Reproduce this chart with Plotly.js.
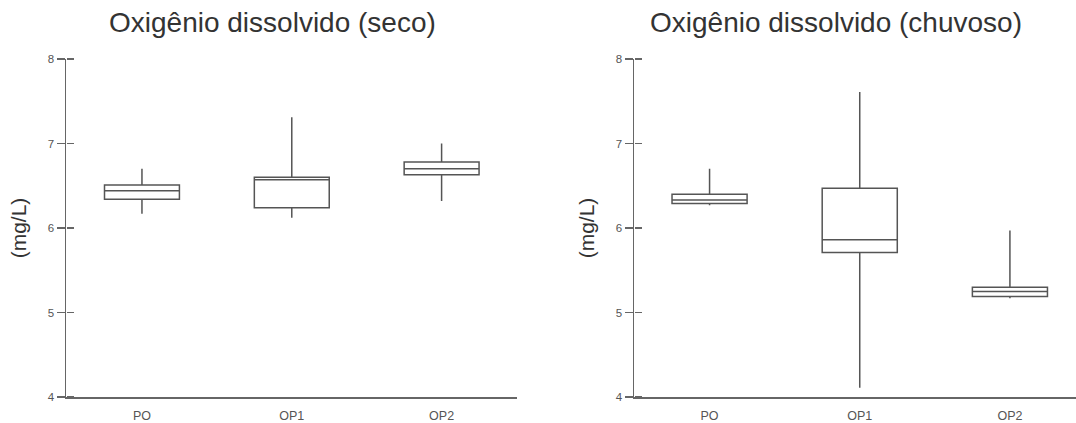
<!DOCTYPE html>
<html>
<head>
<meta charset="utf-8">
<script src="https://cdn.plot.ly/plotly-3.0.1.min.js"></script>
<style>
  html, body { margin: 0; padding: 0; background: #fff; }
  #chart { width: 1076px; height: 423px; }
</style>
</head>
<body>
<div id="chart"></div>
<script>
// Sampling points
const sites = ['PO', 'OP1', 'OP2'];

// Dissolved oxygen (mg/L), dry season
const secoMin    = [6.17, 6.12, 6.32];
const secoQ1     = [6.34, 6.24, 6.63];
const secoMedian = [6.44, 6.57, 6.70];
const secoQ3     = [6.51, 6.60, 6.78];
const secoMax    = [6.70, 7.31, 7.00];

// Dissolved oxygen (mg/L), rainy season
const chuvMin    = [6.27, 4.11, 5.17];
const chuvQ1     = [6.29, 5.71, 5.19];
const chuvMedian = [6.33, 5.86, 5.25];
const chuvQ3     = [6.40, 6.47, 5.30];
const chuvMax    = [6.70, 7.61, 5.97];

const yTicks = [4, 5, 6, 7, 8];

const lineColor = '#555';
const axisColor = '#666';
const font = 'Arial, "Liberation Sans", sans-serif';

function boxTrace(xa, ya, lo, q1, med, q3, hi) {
  return {
    type: 'box',
    xaxis: xa, yaxis: ya,
    x: sites,
    lowerfence: lo, q1: q1, median: med, q3: q3, upperfence: hi,
    width: 0.5,
    whiskerwidth: 0,
    fillcolor: 'rgba(255,255,255,0)',
    line: { color: lineColor, width: 1.5 },
    hoverinfo: 'skip',
    showlegend: false
  };
}

// empty carrier so the overlaid tick axis gets drawn
function tickCarrier(xa, ya) {
  return {
    type: 'scatter', mode: 'markers',
    xaxis: xa, yaxis: ya,
    x: [sites[0]], y: [null],
    hoverinfo: 'skip', showlegend: false
  };
}

const data = [
  boxTrace('x', 'y', secoMin, secoQ1, secoMedian, secoQ3, secoMax),
  boxTrace('x2', 'y2', chuvMin, chuvQ1, chuvMedian, chuvQ3, chuvMax),
  tickCarrier('x', 'y3'),
  tickCarrier('x2', 'y4')
];

function xAxis(domain, range, anchor) {
  return {
    domain: domain, anchor: anchor,
    type: 'category', categoryorder: 'array', categoryarray: sites,
    range: range,
    showline: true, linecolor: axisColor, linewidth: 1.5,
    showgrid: false, zeroline: false,
    ticks: '', ticklabelstandoff: 6,
    tickfont: { family: font, size: 12.5, color: '#555' },
    fixedrange: true
  };
}

function yAxis(anchor) {
  return {
    anchor: anchor, type: 'linear', range: [4, 8],
    tickvals: yTicks, ticktext: yTicks.map(String),
    showline: true, linecolor: axisColor, linewidth: 1.5,
    showgrid: false, zeroline: false,
    ticks: 'outside', ticklen: 8, tickwidth: 1.5, tickcolor: axisColor,
    tickfont: { family: font, size: 11.5, color: '#555' },
    title: { text: '(mg/L)', font: { family: font, size: 21, color: '#333' }, standoff: 15 },
    fixedrange: true
  };
}

// inward half of the crossing tick marks: a label-less axis on the
// right side of the same line, so its outside ticks point into the plot
function yInner(overlay, xDomainStart) {
  return {
    overlaying: overlay, anchor: 'free', position: xDomainStart, side: 'right',
    type: 'linear', range: [4, 8],
    tickvals: yTicks, showticklabels: false,
    showline: false, showgrid: false, zeroline: false,
    ticks: 'outside', ticklen: 7, tickwidth: 1.5, tickcolor: axisColor,
    fixedrange: true
  };
}

const leftDomain = [0, 0.4465];
const rightDomain = [0.5624, 1];

const layout = {
  width: 1076, height: 423,
  margin: { l: 66, r: 0, t: 59, b: 26 },
  paper_bgcolor: '#fff', plot_bgcolor: 'rgba(0,0,0,0)',
  showlegend: false,
  xaxis: xAxis(leftDomain, [-0.507, 2.503], 'y'),
  yaxis: yAxis('x'),
  xaxis2: xAxis(rightDomain, [-0.503, 2.44], 'y2'),
  yaxis2: yAxis('x2'),
  yaxis3: yInner('y', leftDomain[0]),
  yaxis4: yInner('y2', rightDomain[0]),
  annotations: [
    { text: 'Oxigênio dissolvido (seco)', xref: 'paper', yref: 'paper',
      x: 0.2046, y: 1, yshift: 37, xanchor: 'center', yanchor: 'middle', showarrow: false,
      font: { family: font, size: 28, color: '#333' } },
    { text: 'Oxigênio dissolvido (chuvoso)', xref: 'paper', yref: 'paper',
      x: 0.7624, y: 1, yshift: 37, xanchor: 'center', yanchor: 'middle', showarrow: false,
      font: { family: font, size: 28, color: '#333' } }
  ]
};

Plotly.newPlot('chart', data, layout, { displayModeBar: false, staticPlot: true });
</script>
</body>
</html>
